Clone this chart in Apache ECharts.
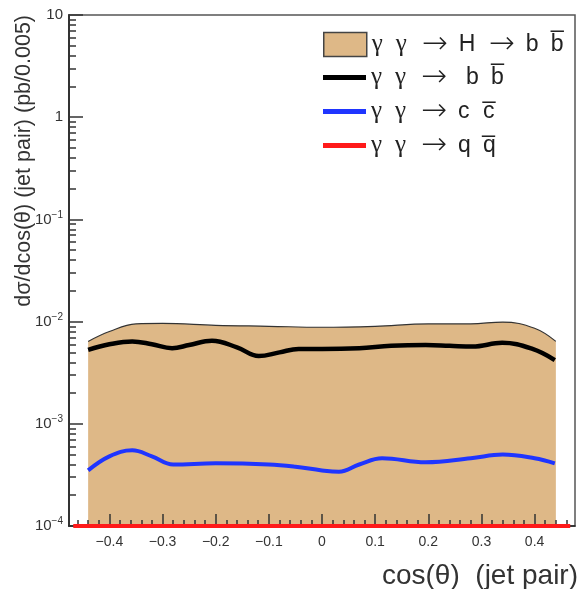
<!DOCTYPE html>
<html>
<head>
<meta charset="utf-8">
<script src="https://cdn.jsdelivr.net/npm/echarts@6/dist/echarts.min.js"></script>
<style>html,body{margin:0;padding:0;background:#fff;}#c{width:582px;height:589px;}</style>
</head>
<body>
<div id="c"></div>
<script>
// ---- data ----
const seriesNames = ['γ γ → H → b b\u0305', 'γ γ →  b b\u0305', 'γ γ → c c\u0305', 'γ γ → q q\u0305'];
const bandX = [-0.44, -0.40, -0.35, -0.30, -0.20, -0.10, 0.00, 0.10, 0.20, 0.28, 0.34, 0.40, 0.44];
const bandY = [0.0064, 0.0080, 0.0095, 0.0096, 0.0092, 0.0090, 0.0088, 0.0090, 0.0095, 0.0095, 0.0099, 0.0086, 0.0064];
const bbX = [-0.44, -0.40, -0.357, -0.32, -0.282, -0.25, -0.207, -0.16, -0.119, -0.08, -0.044, 0.00, 0.07, 0.13, 0.195, 0.24, 0.283, 0.339, 0.396, 0.438];
const bbY = [0.0053, 0.0060, 0.0064, 0.0060, 0.0055, 0.0059, 0.0065, 0.0056, 0.0046, 0.0050, 0.0054, 0.0054, 0.0055, 0.0058, 0.0059, 0.0058, 0.0057, 0.0062, 0.0054, 0.0042];
const ccX = [-0.44, -0.40, -0.357, -0.32, -0.28, -0.20, -0.10, -0.05, 0.00, 0.032, 0.07, 0.113, 0.195, 0.28, 0.34, 0.40, 0.438];
const ccY = [0.00035, 0.00048, 0.00055, 0.00048, 0.00040, 0.00041, 0.00040, 0.00038, 0.00035, 0.00034, 0.00040, 0.00046, 0.00042, 0.00046, 0.00050, 0.00046, 0.00041];
const qqX = [-0.468, 0.467];
const qqY = [0.0001, 0.0001];
const xMajorTicks = [-0.4, -0.3, -0.2, -0.1, 0, 0.1, 0.2, 0.3, 0.4];
const xMinorTicks = [-0.46, -0.44, -0.42, -0.38, -0.36, -0.34, -0.32, -0.28, -0.26, -0.24, -0.22, -0.18, -0.16, -0.14, -0.12, -0.08, -0.06, -0.04, -0.02, 0.02, 0.04, 0.06, 0.08, 0.12, 0.14, 0.16, 0.18, 0.22, 0.24, 0.26, 0.28, 0.32, 0.34, 0.36, 0.38, 0.42, 0.44, 0.46];
const yMajorTicks = [1e-4, 1e-3, 1e-2, 1e-1, 1, 10];
const yMinorTicks = [];
[1e-4, 1e-3, 1e-2, 1e-1, 1].forEach(d => { for (let k = 2; k <= 9; k++) yMinorTicks.push(+(d * k).toPrecision(3)); });

const zip = (xs, ys) => xs.map((x, i) => [x, ys[i]]);
const FONT = '"Liberation Sans", Arial, Helvetica, sans-serif';
const tickStyle = { color: '#333', width: 1.5 };

// legend label layout: split the name on spaces into boxed tokens
function legendFormatter(name) {
  const toks = name.split(' ');
  let gi = 0;
  const out = [];
  toks.forEach((t, i) => {
    const last = i === toks.length - 1;
    if (last) { out.push('{t|' + t + '}'); return; }
    if (t === '') { out.push('{e|\u00a0}'); return; }
    if (t === '→') { out.push('{a|' + t + '}'); return; }
    if (t === 'γ') { out.push((gi++ === 0 ? '{g1|' : '{g2|') + t + '}'); return; }
    if (t === 'H') { out.push('{h|' + t + '}'); return; }
    out.push('{q|' + t + '}');
  });
  return out.join('');
}
const base = { fontSize: 23, fontFamily: FONT, color: '#222', lineHeight: 26 };
const legendRich = {
  t: Object.assign({}, base),
  g1: Object.assign({}, base, { fontFamily: '"Liberation Serif", serif', fontSize: 25, width: 24 }),
  g2: Object.assign({}, base, { fontFamily: '"Liberation Serif", serif', fontSize: 25, width: 26 }),
  a: Object.assign({}, base, { fontFamily: '"DejaVu Sans"', fontWeight: 200, fontSize: 31, width: 37 }),
  e: Object.assign({}, base, { width: 8 }),
  h: Object.assign({}, base, { width: 30 }),
  q: Object.assign({}, base, { width: 25 })
};

const chart = echarts.init(document.getElementById('c'), null, { renderer: 'canvas' });
const option = {
  animation: false,
  grid: { left: 69, right: 7, top: 15, bottom: 63, show: true, borderColor: '#555', borderWidth: 1.5, backgroundColor: 'transparent' },
  xAxis: [{
    type: 'value', min: -0.476, max: 0.476, z: 5,
    axisLine: { show: true, onZero: false, lineStyle: { color: '#222', width: 1.5 } },
    axisTick: { inside: true, length: 12, customValues: xMajorTicks, lineStyle: tickStyle },
    axisLabel: { customValues: xMajorTicks, fontSize: 14, color: '#333', margin: 9, fontFamily: FONT,
      formatter: v => v === 0 ? '0' : (v < 0 ? '\u2212' : '') + Math.abs(v).toFixed(1) },
    splitLine: { show: false }
  }, {
    type: 'value', min: -0.476, max: 0.476, position: 'bottom', z: 5,
    axisLine: { show: false, onZero: false },
    axisTick: { inside: true, length: 6, customValues: xMinorTicks, lineStyle: tickStyle },
    axisLabel: { show: false }, splitLine: { show: false }
  }],
  yAxis: [{
    type: 'log', logBase: 10, min: 1e-4, max: 10, position: 'left', z: 5,
    axisLine: { show: true, onZero: false, lineStyle: { color: '#333', width: 2 } },
    axisTick: { inside: true, length: 14, customValues: yMajorTicks, lineStyle: tickStyle },
    axisLabel: { customValues: yMajorTicks, fontSize: 15, color: '#333', margin: 6, fontFamily: FONT,
      formatter: v => { const e = Math.round(Math.log10(v)); if (e === 0) return '1'; if (e === 1) return '10'; return '10{sup|\u2212' + (-e) + '}'; },
      rich: { sup: { fontSize: 10, color: '#333', padding: [0, 0, 9, 0], fontFamily: FONT } } },
    splitLine: { show: false }
  }, {
    type: 'log', logBase: 10, min: 1e-4, max: 10, position: 'left', z: 5,
    axisLine: { show: false, onZero: false },
    axisTick: { inside: true, length: 7, customValues: yMinorTicks, lineStyle: tickStyle },
    axisLabel: { show: false }, splitLine: { show: false }
  }],
  legend: [{
    orient: 'vertical', left: 323, top: 29, padding: 0, itemWidth: 43, itemHeight: 24, itemGap: 8,
    selectedMode: false, formatter: legendFormatter,
    textStyle: Object.assign({ rich: legendRich }, base),
    data: [{ name: seriesNames[0], icon: 'rect', itemStyle: { color: '#DEB887', borderColor: '#444', borderWidth: 1.5 } }]
  }, {
    orient: 'vertical', left: 323, top: 62, padding: 0, itemWidth: 43, itemHeight: 5, itemGap: 3,
    selectedMode: false, formatter: legendFormatter,
    textStyle: Object.assign({ rich: legendRich }, base),
    data: [
      { name: seriesNames[1], icon: 'rect', itemStyle: { color: '#000' } },
      { name: seriesNames[2], icon: 'rect', itemStyle: { color: '#1f35ff' } },
      { name: seriesNames[3], icon: 'rect', itemStyle: { color: '#ff1a1a' } }
    ]
  }],
  series: [
    { name: seriesNames[0], type: 'line', data: zip(bandX, bandY), smooth: 0.4, symbol: 'none', z: 2,
      itemStyle: { color: '#DEB887' },
      lineStyle: { color: '#333', width: 1.2 }, areaStyle: { color: '#DEB887', opacity: 1, origin: 'start' } },
    { name: seriesNames[1], type: 'line', data: zip(bbX, bbY), smooth: 0.4, symbol: 'none', z: 3,
      itemStyle: { color: '#000' }, lineStyle: { color: '#000', width: 4.5 } },
    { name: seriesNames[2], type: 'line', data: zip(ccX, ccY), smooth: 0.4, symbol: 'none', z: 3,
      itemStyle: { color: '#1f35ff' }, lineStyle: { color: '#1f35ff', width: 4 } },
    { name: seriesNames[3], type: 'line', data: zip(qqX, qqY), symbol: 'none', z: 10, clip: false,
      itemStyle: { color: '#ff1a1a' }, lineStyle: { color: '#ff1a1a', width: 4 } }
  ],
  graphic: [
    { type: 'text', x: 24, y: 15, rotation: Math.PI / 2,
      style: { text: 'dσ/dcos(θ) (jet pair) (pb/0.005)', fontSize: 21.5, fontFamily: FONT, fill: '#333', align: 'right', verticalAlign: 'middle' } },
    { type: 'text', x: 578, y: 576,
      style: { text: 'cos(θ)  (jet pair)', fontSize: 28, fontFamily: FONT, fill: '#333', align: 'right', verticalAlign: 'middle' } }
  ]
};
chart.setOption(option);
</script>
</body>
</html>
